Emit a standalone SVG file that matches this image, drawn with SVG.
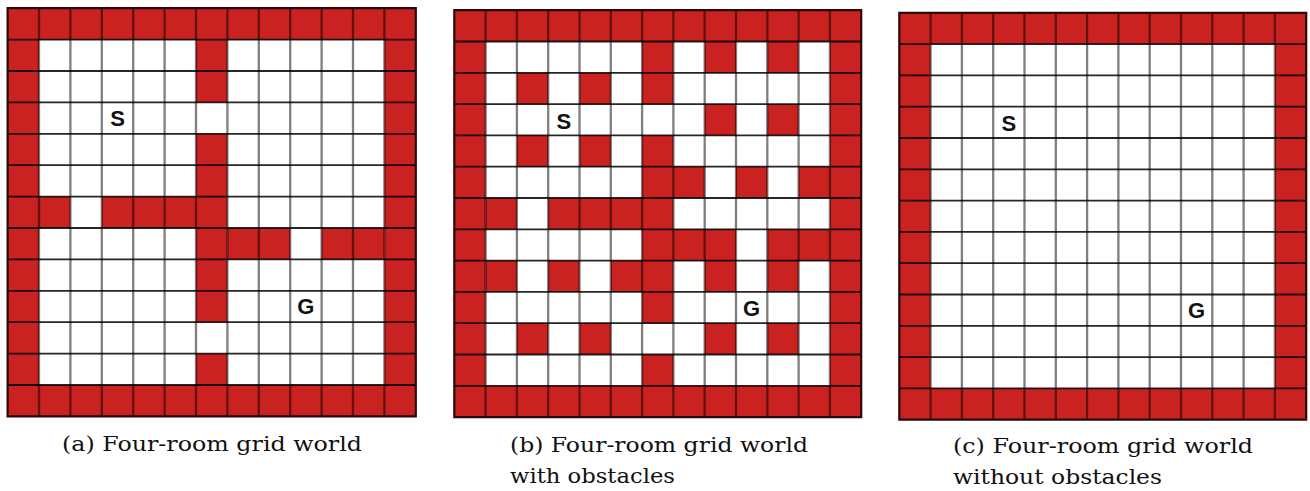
<svg xmlns="http://www.w3.org/2000/svg" width="1310" height="491" viewBox="0 0 1310 491">
<style>
  .bg { fill: #ffffff; }
  .wall { fill: #c92220; }
  .hl { stroke: #000; stroke-opacity: 0.85; stroke-width: 1.8; fill: none; vector-effect: non-scaling-stroke; }
  .vl { stroke: #000; stroke-opacity: 0.5; stroke-width: 2.3; fill: none; vector-effect: non-scaling-stroke; }
  .frame { stroke: #2a0a0a; stroke-width: 2.2; fill: none; vector-effect: non-scaling-stroke; }
  .mark { font-family: "Liberation Sans", Arial, sans-serif; font-weight: bold; font-size: 22px; fill: #111; text-anchor: middle; }
  .cap { font-family: "DejaVu Serif", serif; font-size: 21px; fill: #111; }
</style>
<defs>
  <g id="border">
    <rect class="bg" x="0" y="0" width="13" height="13"/>
    <rect class="wall" x="0" y="0" width="13" height="1"/>
    <rect class="wall" x="0" y="12" width="13" height="1"/>
    <rect class="wall" x="0" y="1" width="1" height="11"/>
    <rect class="wall" x="12" y="1" width="1" height="11"/>
  </g>
  <g id="lines">
    <path class="vl" d="M1 0V13M2 0V13M3 0V13M4 0V13M5 0V13M6 0V13M7 0V13M8 0V13M9 0V13M10 0V13M11 0V13M12 0V13"/>
    <path class="hl" d="M0 1H13M0 2H13M0 3H13M0 4H13M0 5H13M0 6H13M0 7H13M0 8H13M0 9H13M0 10H13M0 11H13M0 12H13"/>
    <rect class="frame" x="0" y="0" width="13" height="13"/>
  </g>
</defs>

<g id="panel-a">
  <g transform="translate(7.6,8.2) scale(31.4)">
    <use href="#border"/>
    <rect class="wall" x="6" y="1" width="1" height="2"/>
    <rect class="wall" x="6" y="4" width="1" height="6"/>
    <rect class="wall" x="6" y="11" width="1" height="1"/>
    <rect class="wall" x="1" y="6" width="1" height="1"/>
    <rect class="wall" x="3" y="6" width="3" height="1"/>
    <rect class="wall" x="7" y="7" width="2" height="1"/>
    <rect class="wall" x="10" y="7" width="2" height="1"/>
    <use href="#lines"/>
  </g>
  <text class="mark" x="117.5" y="125.5">S</text>
  <text class="mark" x="305.9" y="314">G</text>
  <text class="cap" x="62" y="451" textLength="300" lengthAdjust="spacingAndGlyphs">(a) Four-room grid world</text>
</g>

<g id="panel-b">
  <g transform="translate(454.3,10.2) scale(31.3)">
    <use href="#border"/>
    <rect class="wall" x="6" y="1" width="1" height="1"/>
    <rect class="wall" x="8" y="1" width="1" height="1"/>
    <rect class="wall" x="10" y="1" width="1" height="1"/>
    <rect class="wall" x="2" y="2" width="1" height="1"/>
    <rect class="wall" x="4" y="2" width="1" height="1"/>
    <rect class="wall" x="6" y="2" width="1" height="1"/>
    <rect class="wall" x="8" y="3" width="1" height="1"/>
    <rect class="wall" x="10" y="3" width="1" height="1"/>
    <rect class="wall" x="2" y="4" width="1" height="1"/>
    <rect class="wall" x="4" y="4" width="1" height="1"/>
    <rect class="wall" x="6" y="4" width="1" height="1"/>
    <rect class="wall" x="6" y="5" width="2" height="1"/>
    <rect class="wall" x="9" y="5" width="1" height="1"/>
    <rect class="wall" x="11" y="5" width="1" height="1"/>
    <rect class="wall" x="1" y="6" width="1" height="1"/>
    <rect class="wall" x="3" y="6" width="4" height="1"/>
    <rect class="wall" x="6" y="7" width="3" height="1"/>
    <rect class="wall" x="10" y="7" width="2" height="1"/>
    <rect class="wall" x="1" y="8" width="1" height="1"/>
    <rect class="wall" x="3" y="8" width="1" height="1"/>
    <rect class="wall" x="5" y="8" width="2" height="1"/>
    <rect class="wall" x="8" y="8" width="1" height="1"/>
    <rect class="wall" x="10" y="8" width="1" height="1"/>
    <rect class="wall" x="6" y="9" width="1" height="1"/>
    <rect class="wall" x="2" y="10" width="1" height="1"/>
    <rect class="wall" x="4" y="10" width="1" height="1"/>
    <rect class="wall" x="8" y="10" width="1" height="1"/>
    <rect class="wall" x="10" y="10" width="1" height="1"/>
    <rect class="wall" x="6" y="11" width="1" height="1"/>
    <use href="#lines"/>
  </g>
  <text class="mark" x="563.8" y="128.5">S</text>
  <text class="mark" x="751.6" y="315.5">G</text>
  <text class="cap" x="510" y="452" textLength="298" lengthAdjust="spacingAndGlyphs">(b) Four-room grid world</text>
  <text class="cap" x="510" y="483" textLength="165" lengthAdjust="spacingAndGlyphs">with obstacles</text>
</g>

<g id="panel-c">
  <g transform="translate(899.3,12.8) scale(31.3)">
    <use href="#border"/>
    <use href="#lines"/>
  </g>
  <text class="mark" x="1008.9" y="130.5">S</text>
  <text class="mark" x="1196.6" y="318">G</text>
  <text class="cap" x="953" y="453" textLength="300" lengthAdjust="spacingAndGlyphs">(c) Four-room grid world</text>
  <text class="cap" x="953" y="484" textLength="209" lengthAdjust="spacingAndGlyphs">without obstacles</text>
</g>
</svg>
